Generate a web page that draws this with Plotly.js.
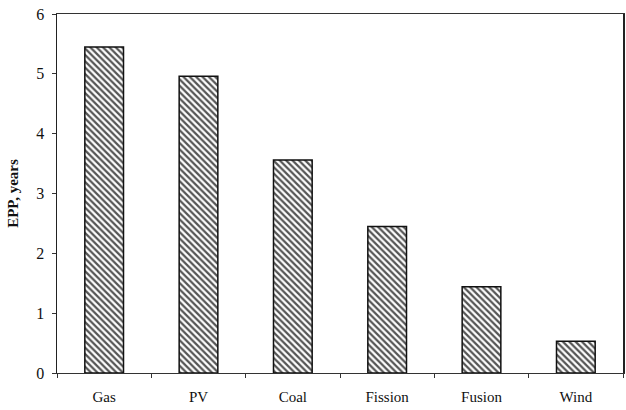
<!DOCTYPE html>
<html>
<head>
<meta charset="utf-8">
<script src="https://cdn.plot.ly/plotly-3.0.1.min.js"></script>
<style>html,body{margin:0;padding:0;background:#fff;}#chart{width:626px;height:410px;}</style>
</head>
<body>
<div id="chart"></div>
<script>
var categories = ["Gas", "PV", "Coal", "Fission", "Fusion", "Wind"];
var eppYears = [5.45, 4.96, 3.56, 2.45, 1.44, 0.53];
var yTickValues = [0, 1, 2, 3, 4, 5, 6];

var trace = {
  type: "bar",
  x: categories,
  y: eppYears,
  width: 0.41,
  marker: {
    color: "#ffffff",
    line: {color: "#111111", width: 1.5},
    pattern: {shape: "\\", fgcolor: "#555555", bgcolor: "#ffffff", size: 4.5, solidity: 0.5}
  },
  hoverinfo: "skip"
};

var layout = {
  width: 626,
  height: 410,
  margin: {l: 57, r: 3, t: 14, b: 37},
  paper_bgcolor: "#ffffff",
  plot_bgcolor: "#ffffff",
  font: {family: "Liberation Serif, Times New Roman, serif", size: 15, color: "#111111"},
  showlegend: false,
  bargap: 0.59,
  xaxis: {
    type: "category",
    showgrid: false,
    zeroline: false,
    showline: true,
    linecolor: "#333333",
    linewidth: 1.2,
    mirror: true,
    ticks: "outside",
    tickson: "boundaries",
    ticklen: 4,
    tickcolor: "#333333",
    ticklabelstandoff: 10,
    tickfont: {size: 15}
  },
  yaxis: {
    range: [0, 6],
    tickvals: yTickValues,
    ticktext: yTickValues.map(String),
    showgrid: false,
    zeroline: false,
    showline: true,
    linecolor: "#222222",
    linewidth: 1.5,
    mirror: true,
    ticks: "outside",
    ticklen: 4,
    tickcolor: "#333333",
    ticklabelstandoff: 4,
    tickfont: {size: 16},
    title: {text: "<b>EPP, years</b>", font: {size: 15}, standoff: 14}
  }
};

Plotly.newPlot("chart", [trace], layout, {displayModeBar: false, staticPlot: true});
</script>
</body>
</html>
